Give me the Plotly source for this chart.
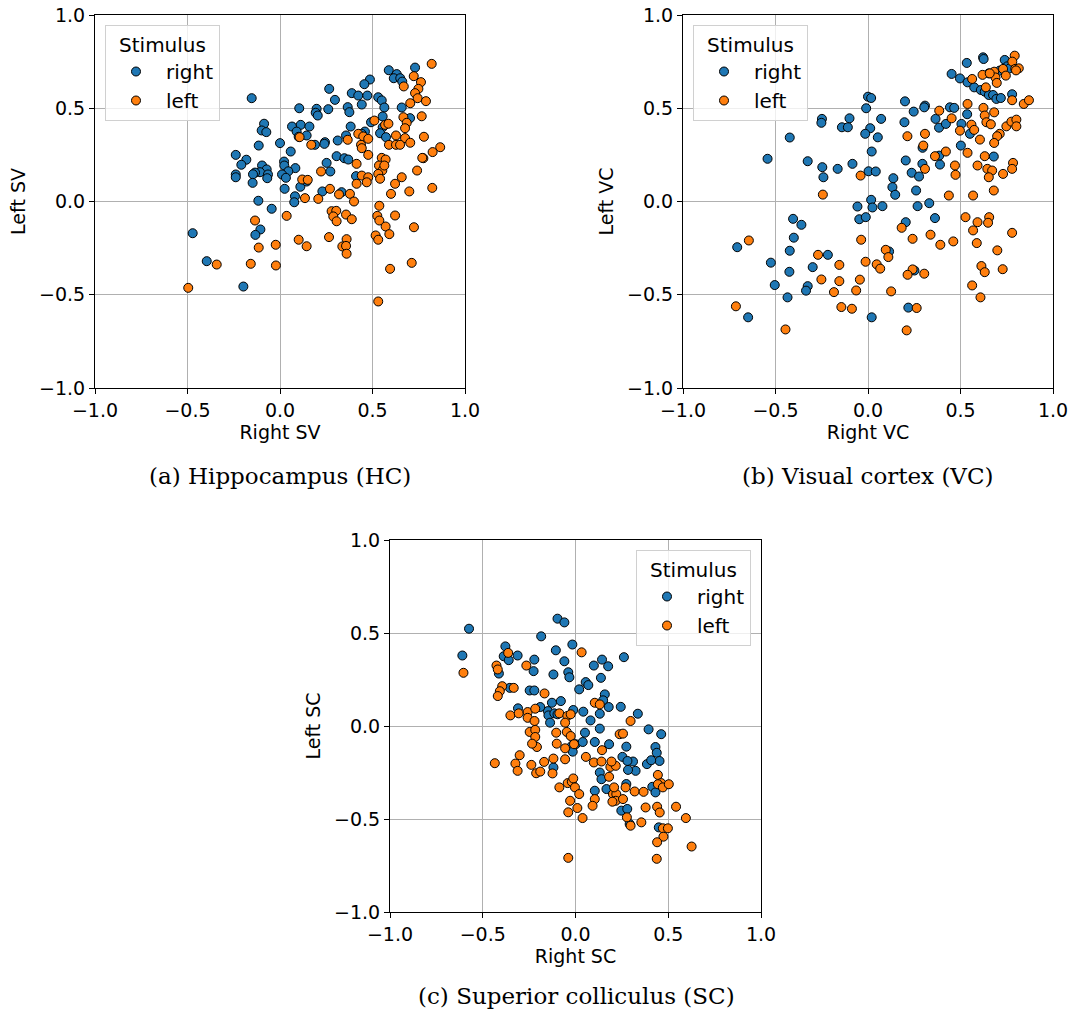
import plotly.graph_objects as go

# ---------------- data ----------------
# (a) Hippocampus (HC)
hc_right_x = [-0.153, 0.104, 0.198, 0.193, 0.204, -0.086, -0.099, -0.074, 0.065, 0.112, 0.09, 0.101, 0.159,
              0.144, -0.115, 0.0, -0.239, -0.182, -0.209, -0.097, -0.072, -0.108, -0.065, -0.135, -0.146, -0.069,
              0.022, 0.023, 0.058, 0.083, 0.045, 0.011, 0.032, -0.239, -0.239, -0.148,
              0.73, 0.588, 0.631, 0.615, 0.65, 0.661, 0.486, 0.456, 0.266, 0.388, 0.423, 0.472, 0.442, 0.297,
              0.531, 0.55, 0.564, 0.658, 0.703, 0.555, 0.261, 0.366, 0.375, 0.492, 0.555, 0.541, 0.573,
              0.382, 0.459, 0.442, 0.357, 0.312, 0.243, 0.24, 0.189, 0.306, 0.348, 0.369, 0.252, 0.272, 0.411,
              0.025, 0.11, 0.144, 0.081, 0.077, -0.117, -0.045, -0.106, -0.133, -0.472, -0.396, -0.198,
              0.229, 0.333]
hc_right_y = [0.554, 0.50, 0.497, 0.476, 0.461, 0.417, 0.381, 0.372, 0.402, 0.411, 0.375, 0.347, 0.402,
              0.354, 0.30, 0.313, 0.25, 0.224, 0.197, 0.193, 0.172, 0.157, 0.145, 0.155, 0.146, 0.125,
              0.214, 0.193, 0.268, 0.179, 0.162, 0.145, 0.127, 0.145, 0.13, 0.10,
              0.718, 0.704, 0.683, 0.661, 0.661, 0.643, 0.654, 0.629, 0.604, 0.581, 0.568, 0.568, 0.52, 0.545,
              0.559, 0.542, 0.504, 0.504, 0.447, 0.456, 0.495, 0.506, 0.479, 0.425, 0.398, 0.366, 0.345,
              0.402, 0.375, 0.363, 0.354, 0.327, 0.318, 0.309, 0.304, 0.243, 0.232, 0.225, 0.207, 0.161, 0.136,
              0.068, 0.079, 0.107, 0.028, -0.004, 0.004, -0.039, -0.15, -0.179, -0.17, -0.32, -0.456,
              0.054, 0.05]
hc_left_x = [0.106, 0.169, 0.12, 0.15, 0.82,
             0.723, 0.762, 0.748, 0.73, 0.744, 0.789, 0.669, 0.704,
             0.51, 0.667, 0.685, 0.676, 0.766, 0.568, 0.586,
             0.423, 0.45, 0.477, 0.366, 0.438, 0.442, 0.477, 0.627, 0.676, 0.704, 0.778, 0.589, 0.627, 0.649,
             0.866, 0.825, 0.775,
             0.414, 0.222, 0.55, 0.571, 0.535, 0.553, 0.564, 0.769, 0.741, 0.658,
             0.442, 0.477, 0.414, 0.469, 0.531, 0.541, 0.622,
             0.135, 0.207, 0.036, -0.135, -0.115, -0.023, 0.101, 0.144, -0.342, -0.158, -0.022, -0.496,
             0.27, 0.319, 0.378, 0.4, 0.6, 0.699, 0.823,
             0.537, 0.526, 0.537, 0.622, 0.571, 0.591, 0.724, 0.517, 0.531,
             0.279, 0.304, 0.288, 0.306, 0.357, 0.388,
             0.265, 0.36, 0.337, 0.357, 0.36, 0.712, 0.595, 0.531]
hc_left_y = [0.345, 0.304, 0.118, 0.116, 0.738,
             0.672, 0.64, 0.604, 0.581, 0.554, 0.538, 0.617, 0.527,
             0.434, 0.452, 0.422, 0.393, 0.457, 0.411, 0.417,
             0.363, 0.349, 0.336, 0.331, 0.304, 0.286, 0.25, 0.354, 0.34, 0.315, 0.347, 0.304, 0.304, 0.304,
             0.291, 0.265, 0.232,
             0.202, 0.161, 0.234, 0.225, 0.193, 0.166, 0.193, 0.234, 0.166, 0.13,
             0.139, 0.13, 0.095, 0.103, 0.148, 0.122, 0.095,
             0.018, 0.014, -0.077, -0.102, -0.247, -0.232, -0.205, -0.24, -0.338, -0.334, -0.343, -0.463,
             0.068, 0.038, 0.041, 0.0, 0.041, 0.054, 0.073,
             -0.023, -0.077, -0.102, -0.075, -0.134, -0.175, -0.138, -0.182, -0.205,
             -0.052, -0.05, -0.08, -0.106, -0.07, -0.095,
             -0.191, -0.202, -0.241, -0.238, -0.28, -0.329, -0.361, -0.536]

# (b) Visual cortex (VC)
vc_right_x = [0.0, 0.017, -0.01, -0.249, -0.252, -0.1, -0.141, -0.109, 0.012, -0.015, 0.02, -0.423, -0.543,
              -0.326, -0.247, -0.241, -0.164, -0.084, 0.003,
              0.622, 0.625, 0.739, 0.753, 0.766, 0.712, 0.653, 0.534, 0.452, 0.497,
              0.538, 0.574, 0.61, 0.631, 0.653, 0.676, 0.694, 0.718, 0.779,
              0.2, 0.308, 0.304, 0.443, 0.466, 0.247,
              0.071, 0.365, 0.384, 0.421, 0.536, 0.505, 0.551, 0.502, 0.053, 0.197, 0.295,
              0.385, 0.389, 0.294, 0.204, 0.236, 0.276, 0.68, 0.137, 0.132, 0.26, 0.042,
              -0.057, 0.017, 0.024, -0.047, -0.012, -0.405, -0.36, -0.401, -0.423, -0.707, -0.217,
              -0.525, -0.425, -0.299, -0.504, -0.326, -0.335, -0.435, -0.648, 0.02,
              0.147, 0.078, 0.268, 0.331, 0.362, 0.204, 0.114, 0.251, 0.218]
vc_right_y = [0.562, 0.555, 0.5, 0.443, 0.422, 0.446, 0.398, 0.398, 0.393, 0.363, 0.268, 0.343, 0.229,
              0.216, 0.184, 0.13, 0.175, 0.202, 0.162,
              0.773, 0.764, 0.759, 0.725, 0.714, 0.702, 0.687, 0.743, 0.684, 0.66,
              0.639, 0.612, 0.598, 0.589, 0.571, 0.571, 0.55, 0.555, 0.575,
              0.537, 0.514, 0.505, 0.505, 0.502, 0.482,
              0.443, 0.443, 0.396, 0.416, 0.468, 0.416, 0.363, 0.3, 0.344, 0.425, 0.288,
              0.246, 0.198, 0.202, 0.22, 0.154, 0.134, 0.241, 0.125, 0.077, 0.059, 0.161,
              -0.027, 0.009, -0.032, -0.095, -0.084, -0.093, -0.125, -0.194, -0.264, -0.245, -0.286,
              -0.328, -0.377, -0.352, -0.448, -0.454, -0.478, -0.514, -0.621, -0.621,
              0.036, -0.025, -0.025, -0.009, -0.089, -0.111, -0.268, -0.37, -0.569]
vc_left_x = [-0.04, 0.793, 0.78, 0.796, 0.815, 0.8, 0.73, 0.682, 0.689, 0.696, 0.619, 0.745, 0.658,
             0.563, 0.637, 0.779, 0.842, 0.87,
             0.385, 0.538, 0.624, 0.682, 0.631, 0.64, 0.664, 0.452,
             0.559, 0.574, 0.497, 0.748, 0.775, 0.802, 0.802, 0.712, 0.698, 0.682, 0.605,
             0.213, 0.308, 0.299,
             0.421, 0.362, 0.538, 0.631, 0.784, 0.779, 0.592, 0.645, 0.671, 0.653, 0.73, 0.47, 0.473, 0.308, 0.68,
             -0.244, -0.037, -0.644, -0.27,
             -0.155, -0.013, -0.252, -0.155, -0.044, -0.184, -0.064, -0.144, -0.087, -0.714, -0.446,
             0.437, 0.568, 0.527, 0.592, 0.655, 0.649, 0.568, 0.779, 0.588, 0.699,
             0.182, 0.241, 0.338, 0.391, 0.461, 0.096, 0.11, 0.047, 0.066,
             0.241, 0.214, 0.304, 0.613, 0.631, 0.728, 0.563, 0.608, 0.125, 0.263, 0.209]
vc_left_y = [0.139, 0.782, 0.75, 0.711, 0.714, 0.703, 0.711, 0.696, 0.665, 0.636, 0.679, 0.675, 0.687,
             0.657, 0.612, 0.543, 0.523, 0.543,
             0.487, 0.523, 0.502, 0.478, 0.461, 0.425, 0.414, 0.446,
             0.412, 0.384, 0.38, 0.403, 0.428, 0.439, 0.403, 0.363, 0.35, 0.314, 0.332,
             0.35, 0.363, 0.3,
             0.268, 0.243, 0.261, 0.243, 0.207, 0.175, 0.193, 0.175, 0.166, 0.13, 0.148, 0.193, 0.143, 0.175, 0.059,
             0.037, -0.205, -0.209, -0.286,
             -0.34, -0.323, -0.418, -0.427, -0.419, -0.486, -0.477, -0.566, -0.575, -0.562, -0.686,
             0.032, 0.032, -0.084, -0.111, -0.084, -0.114, -0.155, -0.168, -0.223, -0.262,
             -0.141, -0.2, -0.178, -0.232, -0.214, -0.259, -0.298, -0.337, -0.36,
             -0.364, -0.393, -0.387, -0.346, -0.379, -0.363, -0.45, -0.514, -0.482, -0.571, -0.691]

# (c) Superior colliculus (SC)
sc_right_x = [-0.574, -0.61, -0.097, -0.06, -0.185,
              -0.378, -0.387, -0.36, -0.312, -0.222, -0.226, -0.119, -0.106, -0.06, -0.017, -0.039, -0.033,
              -0.413, -0.354, -0.247, -0.222,
              -0.127, -0.079, -0.149, -0.19, -0.31, -0.146, -0.114, -0.137, -0.097, -0.012,
              0.099, 0.143, 0.176, 0.261, 0.137, 0.055, 0.069, 0.02, 0.158, 0.149, 0.179, 0.244, 0.042, 0.131,
              0.081, 0.336, 0.394, 0.462, 0.051, 0.131,
              -0.119, -0.02, -0.015,
              0.001, 0.039, 0.104, 0.181, 0.274, 0.253, 0.31, 0.28, 0.385, 0.431, 0.438, 0.453, 0.408, 0.324,
              0.283, 0.131, 0.14, 0.167, 0.104, 0.414, 0.431, 0.274, 0.247, 0.279, 0.449, 0.292]
sc_right_y = [0.523, 0.379, 0.577, 0.557, 0.482,
              0.428, 0.375, 0.354, 0.379, 0.357, 0.295, 0.277, 0.407, 0.348, 0.438, 0.289, 0.262,
              0.282, 0.205, 0.191, 0.191,
              0.125, 0.134, 0.08, 0.102, 0.095, 0.057, 0.068, 0.018, 0.063, 0.086,
              0.325, 0.357, 0.321, 0.37, 0.259, 0.236, 0.22, 0.197, 0.17, 0.138, 0.102, 0.103, 0.077, 0.066,
              0.03, 0.066, -0.018, -0.044, -0.036, -0.014,
              -0.223, -0.107, -0.138,
              -0.098, -0.086, -0.086, -0.098, -0.111, -0.166, -0.191, -0.188, -0.205, -0.113, -0.144, -0.188,
              -0.184, -0.241, -0.236, -0.25, -0.286, -0.339, -0.348, -0.327, -0.357, -0.312, -0.455, -0.446,
              -0.545, -0.527]
sc_left_x = [-0.604, -0.363, -0.265, -0.426, -0.419, -0.395, -0.408, -0.419, -0.333, -0.167,
             -0.351, -0.306, -0.258, -0.217, -0.258, -0.221, -0.087, -0.044, -0.056, -0.026, -0.247, -0.217,
             -0.104, -0.047,
             0.033, 0.104, 0.131, 0.297, 0.238, 0.256,
             -0.217, -0.208, -0.234, -0.101, -0.026, -0.056, -0.056, -0.301, -0.324, -0.312, -0.435, -0.238,
             -0.212, -0.19, -0.169, -0.119, -0.124, -0.087, -0.042, -0.02, -0.012, -0.039, -0.039,
             -0.008, 0.056, 0.099, 0.14, 0.143, 0.188, 0.217, 0.194, 0.181, -0.003, 0.02, -0.029, 0.104,
             0.092, 0.01, 0.038, 0.202, 0.22, 0.208, 0.27, 0.217, 0.199, 0.256, 0.319, 0.367, 0.378, 0.444,
             0.462, 0.444, 0.471, 0.503, 0.44, 0.454, 0.542, 0.595, 0.277, 0.297, 0.355, 0.471, 0.498, 0.474,
             0.44, 0.438, 0.626]
sc_left_y = [0.286, 0.393, 0.325, 0.325, 0.304, 0.214, 0.187, 0.161, 0.205, 0.175,
             0.057, 0.068, 0.075, 0.093, 0.044, 0.027, 0.068, 0.054, 0.018, 0.063, -0.032, -0.021,
             -0.036, -0.032,
             0.396, 0.125, 0.116, 0.027, -0.044, -0.041,
             -0.059, -0.113, -0.095, -0.095, -0.054, -0.12, -0.179, -0.157, -0.202, -0.241, -0.2, -0.209,
             -0.254, -0.245, -0.193, -0.175, -0.255, -0.33, -0.307, -0.3, -0.282, -0.464, -0.709,
             -0.098, -0.166, -0.196, -0.191, -0.13, -0.22, -0.214, -0.191, -0.273, -0.33, -0.366, -0.402, -0.393,
             -0.429, -0.441, -0.495, -0.366, -0.366, -0.33, -0.33, -0.402, -0.407, -0.393, -0.352, -0.354, -0.438,
             -0.263, -0.307, -0.313, -0.33, -0.313, -0.434, -0.465, -0.434, -0.495, -0.491, -0.536, -0.518,
             -0.55, -0.55, -0.595, -0.625, -0.714, -0.648]

series_names = ["right", "left"]
series_colors = ["#1f77b4", "#ff7f0e"]
tick_vals = [-1.0, -0.5, 0.0, 0.5, 1.0]

panels = [
    dict(name="a", xlabel="Right SV", ylabel="Left SV", caption="(a) Hippocampus (HC)",
         data=[(hc_right_x, hc_right_y), (hc_left_x, hc_left_y)]),
    dict(name="b", xlabel="Right VC", ylabel="Left VC", caption="(b) Visual cortex (VC)",
         data=[(vc_right_x, vc_right_y), (vc_left_x, vc_left_y)]),
    dict(name="c", xlabel="Right SC", ylabel="Left SC", caption="(c) Superior colliculus (SC)",
         data=[(sc_right_x, sc_right_y), (sc_left_x, sc_left_y)]),
]

# ---------------- layout (window pixels; body margin removed by post_script) ----------------
W, H = 1076, 1017
def fx(px):
    return px / W
def fy(py):
    return 1 - py / H

boxes = [(95, 465, 15, 388), (683, 1053, 15, 388), (390, 761, 540, 912)]
caption_pos = [(280, 476), (868, 476), (576, 996)]
legend_pos = [(105, 25, "left"), (693, 25, "left"), (751, 550, "right")]

fig = go.Figure()
layout = dict(width=W, height=H, margin=dict(l=0, r=0, t=0, b=0, autoexpand=False),
              paper_bgcolor="white", plot_bgcolor="white",
              font=dict(family="DejaVu Sans", size=19, color="black"),
              annotations=[])

for i, p in enumerate(panels):
    sfx = "" if i == 0 else str(i + 1)
    leg = "legend" if i == 0 else "legend" + str(i + 1)
    for (xs, ys), nm, col in zip(p["data"], series_names, series_colors):
        fig.add_trace(go.Scatter(
            x=xs, y=ys, mode="markers", name=nm,
            marker=dict(size=9, color=col, line=dict(color="black", width=1)),
            xaxis="x" + sfx, yaxis="y" + sfx, legend=leg, showlegend=True))
    x0, x1, y0, y1 = boxes[i]
    common = dict(range=[-1, 1], tickvals=tick_vals, tickformat=".1f", automargin=False,
                  showgrid=True, gridcolor="#b0b0b0", gridwidth=1, zeroline=False,
                  showline=True, linecolor="black", linewidth=1, mirror=True,
                  ticks="outside", ticklen=5, tickwidth=1, tickcolor="black",
                  tickfont=dict(size=19, family="DejaVu Sans"))
    layout["xaxis" + sfx] = dict(common, domain=[fx(x0), fx(x1)], anchor="y" + sfx,
                                 title=dict(text=p["xlabel"], font=dict(size=19), standoff=4))
    layout["yaxis" + sfx] = dict(common, domain=[fy(y1), fy(y0)], anchor="x" + sfx,
                                 title=dict(text=p["ylabel"], font=dict(size=19), standoff=8))
    lx, ly, side = legend_pos[i]
    layout[leg] = dict(x=fx(lx), y=fy(ly), xanchor=side, yanchor="top",
                       bgcolor="rgba(255,255,255,0.8)", bordercolor="#d0d0d0", borderwidth=1,
                       font=dict(size=20, family="DejaVu Sans"),
                       title=dict(text="Stimulus", side="top center", font=dict(size=20)),
                       itemsizing="trace", itemwidth=50, tracegroupgap=0)
    cx, cy = caption_pos[i]
    layout["annotations"].append(dict(text=p["caption"], x=fx(cx), y=fy(cy), xref="paper", yref="paper",
                                      showarrow=False, xanchor="center", yanchor="middle",
                                      font=dict(family="DejaVu Serif", size=23, color="black")))

fig.update_layout(**layout)
fig.write_html("out.html",
               config={"displayModeBar": False},
               post_script="document.body.style.margin='0';document.body.style.padding='0';"
                           "document.body.style.overflow='hidden';")
